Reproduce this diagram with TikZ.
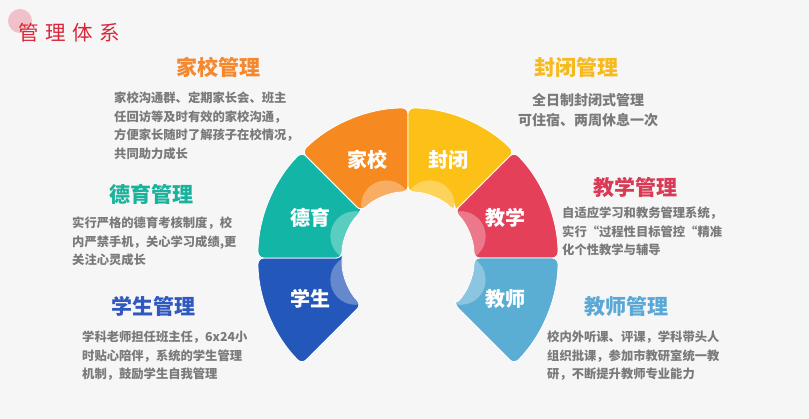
\documentclass[tikz,border=0pt]{standalone}
\usepackage{fontspec}
\newfontfamily\cjk{Noto Sans CJK SC}
\definecolor{bg}{HTML}{F6F6F6}
\definecolor{bodygray}{HTML}{7A7A7A}
\definecolor{cOrange}{HTML}{F68A20}
\definecolor{cYellow}{HTML}{FDC016}
\definecolor{cRed}{HTML}{E4405A}
\definecolor{cLight}{HTML}{5AADD3}
\definecolor{cBlue}{HTML}{2457BA}
\definecolor{cTeal}{HTML}{13B6A6}
\definecolor{tOrange}{HTML}{F5872C}
\definecolor{tYellow}{HTML}{F7BA1E}
\definecolor{tRed}{HTML}{D93A55}
\definecolor{tLight}{HTML}{5AA8D5}
\definecolor{tBlue}{HTML}{2F58C0}
\definecolor{tTeal}{HTML}{19B29C}
\definecolor{titleRed}{HTML}{D9263A}
\definecolor{dotPink}{HTML}{F0B4BE}
\newcommand\segpath[2]{(#1:66pt) -- (#1:150pt) arc[start angle=#1, end angle=#2, radius=150pt] -- (#2:66pt) arc[start angle=#2, end angle=#1, radius=66pt] -- cycle}
\newcommand\ringseg[5]{%
  \fill[#3, draw=white, line width=0.8pt, rounded corners=6pt] \segpath{#1}{#2};
  \begin{scope}
    \clip[rounded corners=6pt] \segpath{#1}{#2};
    \fill[white, opacity=0.3] ({(#1+#2)/2}:57pt) circle[radius=25pt];
  \end{scope}
  \node[seglab] (#5) at ({(#1+#2)/2}:106pt) {#4};
}
\begin{document}
\begin{tikzpicture}[x=1pt,y=-1pt,
  body/.style={anchor=base west, inner sep=0pt, text=bodygray, font=\cjk\bfseries\fontsize{12.3}{14}\selectfont},
  bodyc/.style={anchor=base, inner sep=0pt, text=bodygray, font=\cjk\bfseries\fontsize{14}{16}\selectfont},
  ttl/.style={anchor=base, inner sep=0pt, font=\cjk\bfseries\fontsize{21}{24}\selectfont},
  seglab/.style={text=white, inner sep=0pt, font=\cjk\bfseries\fontsize{20}{24}\selectfont}]
\fill[bg] (0,0) rectangle (809,419);
\useasboundingbox (0,0) rectangle (809,419);

% heading
\fill[dotPink, opacity=0.8] (20,21) circle[radius=12pt];
\node[anchor=base west, inner sep=0pt, text=titleRed, font=\cjk\fontsize{20.5}{24}\selectfont] (head) at (18,40.8)
  {管\hspace{6.5pt}理\hspace{6.5pt}体\hspace{6.5pt}系};

% ring
\coordinate (O) at (408,258);
\begin{scope}[shift={(408,258)}]
  \ringseg{180}{225}{cBlue}{学生}{sXS}
  \ringseg{135}{180}{cTeal}{德育}{sDY}
  \ringseg{90}{135}{cOrange}{家校}{sJX}
  \ringseg{45}{90}{cYellow}{封闭}{sFB}
  \ringseg{0}{45}{cRed}{教学}{sJXue}
  \ringseg{-45}{0}{cLight}{教师}{sJS}
\end{scope}

% 家校管理
\node[ttl, text=tOrange] (jxT) at (218,75.8) {家校管理};
\node[body] (jx1) at (114,102.7) {家校沟通群、定期家长会、班主};
\node[body] (jx2) at (114,121.2) {任回访等及时有效的家校沟通，};
\node[body] (jx3) at (114,139.7) {方便家长随时了解孩子在校情况，};
\node[body] (jx4) at (114,158.2) {共同助力成长};

% 德育管理
\node[ttl, text=tTeal] (dyT) at (151,202.8) {德育管理};
\node[body] (dy1) at (72,227.7) {实行严格的德育考核制度，校};
\node[body] (dy2) at (72,246.2) {内严禁手机，关心学习成绩,更};
\node[body] (dy3) at (72,264.7) {关注心灵成长};

% 学生管理
\node[ttl, text=tBlue] (xsT) at (153.5,314.8) {学生管理};
\node[body] (xs1) at (82,341.7) {学科老师担任班主任，6x24小};
\node[body] (xs2) at (82,360.2) {时贴心陪伴，系统的学生管理};
\node[body] (xs3) at (82,378.7) {机制，鼓励学生自我管理};

% 封闭管理
\node[ttl, text=tYellow] (fbT) at (576,75.8) {封闭管理};
\node[bodyc] (fb1) at (588,105.2) {全日制封闭式管理};
\node[bodyc] (fb2) at (588,125.2) {可住宿、两周休息一次};

% 教学管理
\node[ttl, text=tRed] (jxxT) at (635,195.8) {教学管理};
\node[body] (jxx1) at (562,218) {自适应学习和教务管理系统，};
\node[body] (jxx2) at (562,236.5) {实行“过程性目标管控“精准};
\node[body] (jxx3) at (562,255) {化个性教学与辅导};

% 教师管理
\node[ttl, text=tLight] (jsT) at (626,314.8) {教师管理};
\node[body] (js1) at (547,341.7) {校内外听课、评课，学科带头人};
\node[body] (js2) at (547,360.5) {组织批课，参加市教研室统一教};
\node[body] (js3) at (547,378.7) {研，不断提升教师专业能力};
\end{tikzpicture}
\end{document}
